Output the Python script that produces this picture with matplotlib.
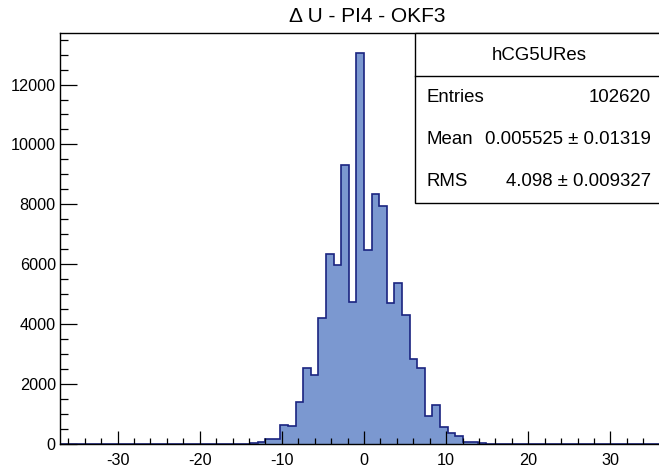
import numpy as np
import matplotlib
matplotlib.use("Agg")
import matplotlib.pyplot as plt
from matplotlib.patches import Rectangle
from matplotlib.ticker import MultipleLocator

# ---- data -------------------------------------------------------------
hist_min, hist_max, n_bins = -37.0, 37.0, 80
first_bin = 25          # index of first non-empty bin (left edge -13.875)
counts_nonzero = [15, 40, 140, 140, 610, 600, 1390, 2540, 2280, 4180,
                  6320, 5970, 9300, 4730, 13070, 6480, 8350, 7950, 4710, 5370,
                  4300, 2840, 2515, 910, 1280, 565, 360, 250, 60, 55, 15]
title = "\u0394 U - PI4 - OKF3"
stats_name = "hCG5URes"
stats_rows = [("Entries", "102620"),
              ("Mean", "0.005525 \u00b1 0.01319"),
              ("RMS", "4.098 \u00b1 0.009327")]
x_major = [-30, -20, -10, 0, 10, 20, 30]
y_major = [0, 2000, 4000, 6000, 8000, 10000, 12000]

edges = np.linspace(hist_min, hist_max, n_bins + 1)
counts = np.zeros(n_bins)
counts[first_bin:first_bin + len(counts_nonzero)] = counts_nonzero

# ---- figure -----------------------------------------------------------
W, H = 659, 469
fig = plt.figure(figsize=(W / 100, H / 100), dpi=100)
plt.rcParams['font.family'] = ['Liberation Sans', 'DejaVu Sans']

ax_l, ax_r, ax_t, ax_b = 60, 668, 33, 443.5
ax = fig.add_axes([ax_l / W, 1 - ax_b / H, (ax_r - ax_l) / W, (ax_b - ax_t) / H])

fill_c = '#7b98d0'
edge_c = '#1a2480'
ax.stairs(counts, edges, fill=True, facecolor=fill_c, edgecolor='none', lw=0)
ax.stairs(counts, edges, fill=False, color=edge_c, lw=1.2, baseline=None)

ax.set_xlim(hist_min, hist_max)
ax.set_ylim(0, 1.05 * max(counts))

ax.set_xticks(x_major)
ax.set_xticklabels([str(v) for v in x_major])
ax.set_yticks(y_major)
ax.set_yticklabels([str(v) for v in y_major])
ax.xaxis.set_minor_locator(MultipleLocator(2))
ax.yaxis.set_minor_locator(MultipleLocator(500))

ax.tick_params(axis='x', which='major', direction='in', length=9.2, width=0.9,
               labelsize=11.7, pad=7, top=False, colors='black')
ax.tick_params(axis='x', which='minor', direction='in', length=4.6, width=0.9, top=False)
ax.tick_params(axis='y', which='major', direction='in', length=12.2, width=0.9,
               labelsize=11.7, pad=3, right=False)
ax.tick_params(axis='y', which='minor', direction='in', length=6.1, width=0.9, right=False)
for s in ax.spines.values():
    s.set_linewidth(1.0)

# title
fig.text(367 / W, 1 - 21.7 / H, title, ha='center', va='baseline', fontsize=15)

# stats box
bx0, bx1, by0, by1 = 415, 663, 33, 203
box = Rectangle((bx0 / W, 1 - by1 / H), (bx1 - bx0) / W, (by1 - by0) / H,
                transform=fig.transFigure, facecolor='white', edgecolor='black',
                lw=1.0, zorder=5)
fig.add_artist(box)
sep_y = 75.7
fig.add_artist(plt.Line2D([bx0 / W, bx1 / W], [1 - sep_y / H, 1 - sep_y / H],
                          transform=fig.transFigure, color='black', lw=1.0, zorder=6))
fs = 13.4
fig.text(539 / W, 1 - 56 / H, stats_name, ha='center', va='center', fontsize=fs, zorder=7)
row_y = [98, 140, 182]
for (lab, val), yy in zip(stats_rows, row_y):
    fig.text(427 / W, 1 - yy / H, lab, ha='left', va='center', fontsize=fs, zorder=7)
    fig.text(651 / W, 1 - yy / H, val, ha='right', va='center', fontsize=fs, zorder=7)

fig.savefig('out.png', dpi=100)
